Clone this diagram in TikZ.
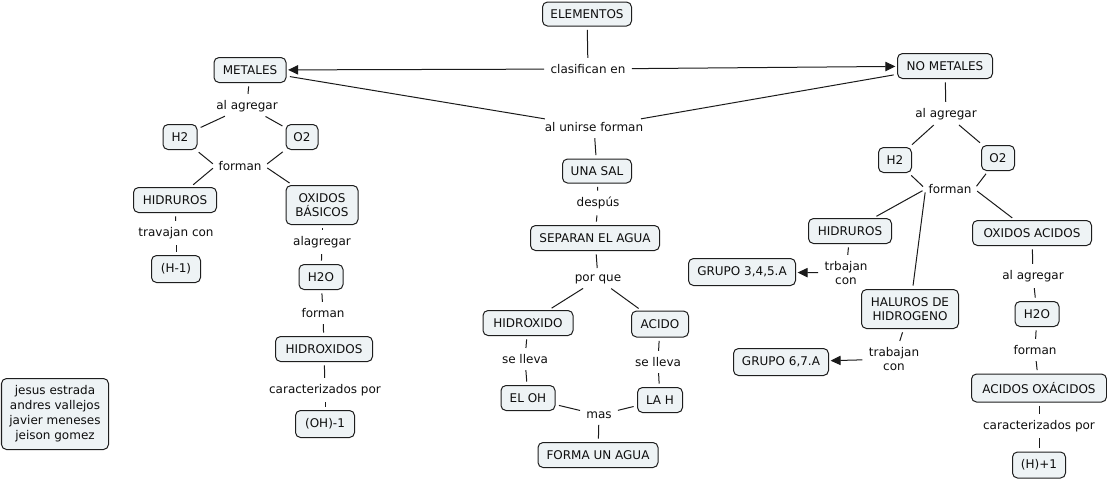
\documentclass[tikz,border=0pt]{standalone}
\usepackage{fontspec}
\setmainfont{DejaVu Sans}
\usetikzlibrary{arrows.meta}
\definecolor{boxfill}{HTML}{EEF3F5}
\definecolor{boxline}{HTML}{1E1E1E}
\definecolor{txt}{HTML}{0E0E0E}
\definecolor{lnk}{HTML}{1A1A1A}
\begin{document}
\begin{tikzpicture}[x=0.75pt,y=-0.75pt,
  font=\fontsize{9}{10.7}\selectfont, text=txt,
  cb/.style={draw=boxline, fill=boxfill, rounded corners=3.75pt, line width=0.75pt,
    inner sep=0pt, align=center},
  sz/.style 2 args={minimum width=#1*0.75pt, minimum height=#2*0.75pt},
  lab/.style={inner sep=2pt, align=center},
  conn/.style={draw=lnk, line width=0.75pt, shorten <=2.6pt, shorten >=2.6pt},
  arr/.style={conn, shorten >=1.2pt, -{Triangle[length=7.5pt,width=7pt]}}
]
\useasboundingbox (0,0) rectangle (1107,480);
% concepts
\node[cb, sz={89}{24}] (elem) at (587,14) {ELEMENTOS};
\node[cb, sz={72}{25}] (met) at (250,70) {METALES};
\node[cb, sz={95}{25}] (nomet) at (945,66) {NO METALES};
\node[cb, sz={34}{25}] (h2l) at (180,137) {H2};
\node[cb, sz={32}{25}] (o2l) at (302,137) {O2};
\node[cb, sz={83}{25}] (hidl) at (175,200) {HIDRUROS};
\node[cb, sz={72}{39}] (oxb) at (322,205) {OXIDOS\\BÁSICOS};
\node[cb, sz={49}{27}] (h1) at (176,269) {(H-1)};
\node[cb, sz={44}{25}] (h2ol) at (321,277) {H2O};
\node[cb, sz={97}{25}] (hidx) at (324,349) {HIDROXIDOS};
\node[cb, sz={59}{27}] (oh1) at (325,424) {(OH)-1};
\node[cb, sz={107}{71}, font=\fontsize{9}{11.2}\selectfont] (auth) at (55,414) {jesus estrada\\andres vallejos\\javier meneses\\jeison gomez};
\node[cb, sz={69}{24}] (sal) at (597,171) {UNA SAL};
\node[cb, sz={129}{25}] (sep) at (595,238) {SEPARAN EL AGUA};
\node[cb, sz={90}{25}] (hidro) at (528,323) {HIDROXIDO};
\node[cb, sz={57}{26}] (acido) at (660,324) {ACIDO};
\node[cb, sz={54}{25}] (eloh) at (528,398) {EL OH};
\node[cb, sz={45}{25}] (lah) at (660,400) {LA H};
\node[cb, sz={120}{25}] (forma) at (598,455) {FORMA UN AGUA};
\node[cb, sz={33}{25}] (h2r) at (895,160) {H2};
\node[cb, sz={33}{25}] (o2r) at (998,158) {O2};
\node[cb, sz={83}{25}] (hidr) at (850,231) {HIDRUROS};
\node[cb, sz={119}{25}] (oxa) at (1032,233) {OXIDOS ACIDOS};
\node[cb, sz={107}{27}] (g345) at (742,272) {GRUPO 3,4,5.A};
\node[cb, sz={97}{39}] (hal) at (910,309) {HALUROS DE\\HIDROGENO};
\node[cb, sz={44}{25}] (h2or) at (1037,314) {H2O};
\node[cb, sz={95}{27}] (g67) at (781,362) {GRUPO 6,7.A};
\node[cb, sz={135}{28}] (aox) at (1039,388) {ACIDOS OXÁCIDOS};
\node[cb, sz={53}{26}] (h1r) at (1039,465) {(H)+1};
% linking phrases
\node[lab] (clas) at (588,69) {clasifican en};
\node[lab] (unir) at (594,127) {al unirse forman};
\node[lab] (agl) at (247,106) {al agregar};
\node[lab] (forl) at (240,166) {forman};
\node[lab] (trav) at (176,233) {travajan con};
\node[lab] (alag) at (322,242) {alagregar};
\node[lab] (forl2) at (323,313) {forman};
\node[lab] (carl) at (325,390) {caracterizados por};
\node[lab] (desp) at (598,203) {despús};
\node[lab] (porq) at (598,279) {por que};
\node[lab] (sel1) at (525,359) {se lleva};
\node[lab] (sel2) at (658,362) {se lleva};
\node[lab] (mas) at (599,415) {mas};
\node[lab] (agr) at (946,114) {al agregar};
\node[lab] (forr) at (950,189) {forman};
\node[lab] (trb) at (846,273) {trbajan\\con};
\node[lab] (trab) at (894,359) {trabajan\\con};
\node[lab] (agr2) at (1033,276) {al agregar};
\node[lab] (forr2) at (1035,350) {forman};
\node[lab] (carr) at (1039,426) {caracterizados por};
% connectors
\draw[conn] (elem) -- (clas);
\draw[arr] (clas) -- (met);
\draw[arr] (clas) -- (nomet);
\draw[conn] (met) -- (unir);
\draw[conn] (nomet) -- (unir);
\draw[conn] (unir) -- (sal);
% metales branch
\draw[conn] (met) -- (agl);
\draw[conn] (agl) -- (h2l);
\draw[conn] (agl) -- (o2l);
\draw[conn] (h2l) -- (forl.west);
\draw[conn] (o2l) -- (forl.east);
\draw[conn] (forl.west) -- (hidl);
\draw[conn] (forl.east) -- (oxb);
\draw[conn] (hidl) -- (trav);
\draw[conn] (trav) -- (h1);
\draw[conn] (oxb) -- (alag);
\draw[conn] (alag) -- (h2ol);
\draw[conn] (h2ol) -- (forl2);
\draw[conn] (forl2) -- (hidx);
\draw[conn] (hidx) -- (carl);
\draw[conn] (carl) -- (oh1);
% sal branch
\draw[conn] (sal) -- (desp);
\draw[conn] (desp) -- (sep);
\draw[conn] (sep) -- (porq);
\draw[conn] (porq) -- (hidro);
\draw[conn] (porq) -- (acido);
\draw[conn] (hidro) -- (sel1);
\draw[conn] (sel1) -- (eloh);
\draw[conn] (acido) -- (sel2);
\draw[conn] (sel2) -- (lah);
\draw[conn] (eloh) -- (mas);
\draw[conn] (lah) -- (mas);
\draw[conn] (mas) -- (forma);
% no metales branch
\draw[conn] (nomet) -- (agr);
\draw[conn] (agr) -- (h2r);
\draw[conn] (agr) -- (o2r);
\draw[conn] (h2r) -- (forr.west);
\draw[conn] (o2r) -- (forr.east);
\draw[conn] (forr.west) -- (hidr);
\draw[conn] (forr.west) -- (hal);
\draw[conn] (forr.east) -- (oxa);
\draw[conn] (hidr) -- (trb);
\draw[arr] (trb) -- (g345);
\draw[conn] (hal) -- (trab);
\draw[arr] (trab) -- (g67);
\draw[conn] (oxa) -- (agr2);
\draw[conn] (agr2) -- (h2or);
\draw[conn] (h2or) -- (forr2);
\draw[conn] (forr2) -- (aox);
\draw[conn] (aox) -- (carr);
\draw[conn] (carr) -- (h1r);
\end{tikzpicture}
\end{document}
